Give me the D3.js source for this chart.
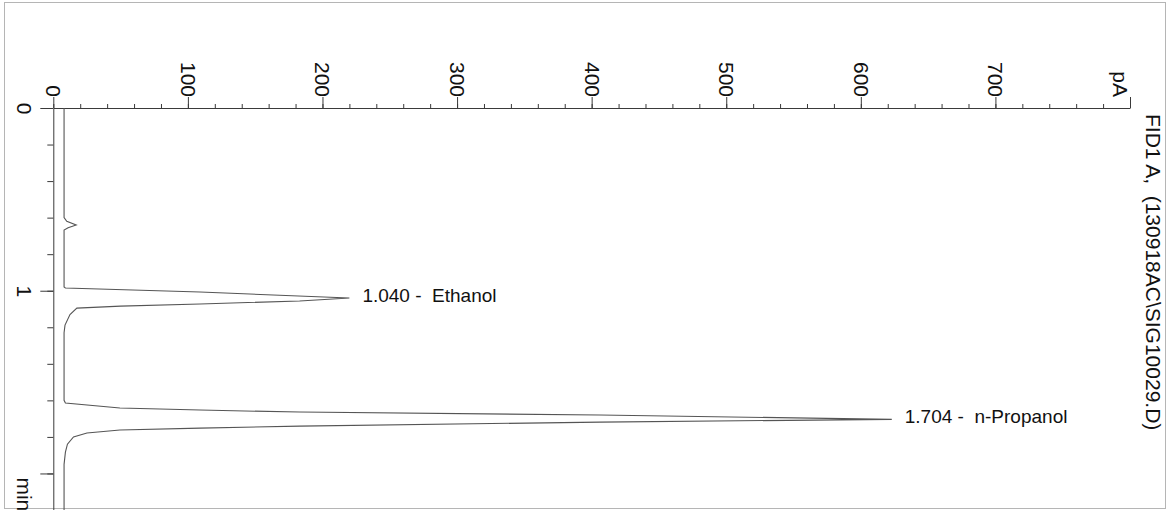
<!DOCTYPE html>
<html>
<head>
<meta charset="utf-8">
<script src="https://cdn.jsdelivr.net/npm/d3@7"></script>
<style>
body { margin: 0; background: #fff; }
svg { display: block; font-family: "Liberation Sans", Arial, sans-serif; }
</style>
</head>
<body>
<svg width="1167" height="510"></svg>
<script>
// FID1 A trace: retention time (min) and signal (pA)
var timeMin  = [0.00, 0.30, 0.60, 0.62, 0.64, 0.655, 0.668, 0.98, 0.985, 1.007, 1.040, 1.056, 1.073, 1.084, 1.095, 1.13, 1.188, 1.23,
                1.60, 1.615, 1.642, 1.653, 1.664, 1.680, 1.704, 1.719, 1.741, 1.752, 1.762, 1.779, 1.80, 1.84, 1.883, 1.95, 2.25];
var signalPA = [8, 8, 8, 10, 17, 11, 8, 8, 9, 109, 220, 183, 109, 50, 17.5, 12.4, 8.7, 8,
                8, 9, 49.5, 109, 183, 406, 623, 406, 183, 109, 49.5, 25, 15, 10.5, 9, 8, 8];

// integrated peaks
var peakTimes   = [1.040, 1.704];
var peakHeights = [220, 623];
var peakNames   = ["Ethanol", "n-Propanol"];

// axis ticks
var pAMajor  = [0, 100, 200, 300, 400, 500, 600, 700, 800];
var pALabels = ["0", "100", "200", "300", "400", "500", "600", "700", "pA"];
var pAMinor  = [0, 20, 40, 60, 80, 100, 120, 140, 160, 180, 200, 220, 240, 260, 280, 300, 320, 340, 360, 380, 400,
                420, 440, 460, 480, 500, 520, 540, 560, 580, 600, 620, 640, 660, 680, 700, 720, 740, 760, 780, 800];
var timeMajor  = [0, 1, 2];
var timeLabels = ["0", "1", "min"];
var timeMinor  = [0, 0.2, 0.4, 0.6, 0.8, 1.0, 1.2, 1.4, 1.6, 1.8, 2.0, 2.2];

var signalName = "FID1 A,  (130918AC\\SIG10029.D)";

var svg = d3.select("svg");
var axisColor = "#3a3a3a";

var x = d3.scaleLinear().domain([0, 800]).range([53.3, 1130]);
var y = d3.scaleLinear().domain([0, 2.2]).range([108, 510]);

// frame
svg.append("rect")
    .attr("x", 4.5).attr("y", 2.5)
    .attr("width", 1161).attr("height", 506)
    .attr("fill", "none")
    .attr("stroke", "#b5b5b5");

// pA axis along the top
var pAAxis = svg.append("g").attr("transform", "translate(0," + y(0) + ")");
pAAxis.append("g")
    .call(d3.axisTop(x).tickValues(pAMinor).tickSize(4).tickSizeOuter(0).tickFormat(""));
var pAMajorG = pAAxis.append("g")
    .call(d3.axisTop(x).tickValues(pAMajor).tickSize(11).tickSizeOuter(0)
        .tickFormat(function(d) { return pALabels[pAMajor.indexOf(d)]; }));
pAMajorG.select(".domain").remove();
pAMajorG.selectAll("text")
    .attr("transform", "rotate(90)")
    .attr("x", -11)
    .attr("y", function(d) { return d === 800 ? 18 : 7.5; })
    .attr("dy", 0)
    .style("text-anchor", "end")
    .style("font-size", "21px")
    .style("font-family", "Liberation Sans, Arial, sans-serif")
    .attr("fill", "#111");

// time axis down the left
var timeAxis = svg.append("g").attr("transform", "translate(" + x(0) + ",0)");
timeAxis.append("g")
    .call(d3.axisLeft(y).tickValues(timeMinor).tickSize(6).tickSizeOuter(0).tickFormat(""));
var timeMajorG = timeAxis.append("g")
    .call(d3.axisLeft(y).tickValues(timeMajor).tickSize(13).tickSizeOuter(0)
        .tickFormat(function(d) { return timeLabels[timeMajor.indexOf(d)]; }));
timeMajorG.select(".domain").remove();
timeMajorG.selectAll("text")
    .attr("transform", "rotate(90)")
    .attr("x", function(d) { return d === 2 ? 3.5 : 0; })
    .attr("y", 36.3)
    .attr("dy", 0)
    .style("text-anchor", function(d) { return d === 2 ? "start" : "middle"; })
    .style("font-size", "21px")
    .style("font-family", "Liberation Sans, Arial, sans-serif")
    .attr("fill", "#111");

svg.selectAll(".domain, .tick line").attr("stroke", axisColor);

// the chromatogram trace
var line = d3.line()
    .x(function(d, i) { return x(signalPA[i]); })
    .y(function(d, i) { return y(timeMin[i]); });

svg.append("path")
    .datum(timeMin)
    .attr("d", line)
    .attr("fill", "none")
    .attr("stroke", "#555")
    .attr("stroke-width", 1.1);

// peak annotations
svg.selectAll(".peak-label")
    .data(peakTimes)
    .enter().append("text")
    .attr("class", "peak-label")
    .attr("x", function(d, i) { return x(peakHeights[i]) + 13; })
    .attr("y", function(d) { return y(d) + 4; })
    .style("white-space", "pre")
    .style("font-size", "19px")
    .attr("fill", "#111")
    .text(function(d, i) { return d.toFixed(3) + " -  " + peakNames[i]; });

// signal description on the right
svg.append("text")
    .attr("transform", "translate(1146,114) rotate(90)")
    .style("white-space", "pre")
    .style("font-size", "21px")
    .attr("fill", "#111")
    .text(signalName);
</script>
</body>
</html>
